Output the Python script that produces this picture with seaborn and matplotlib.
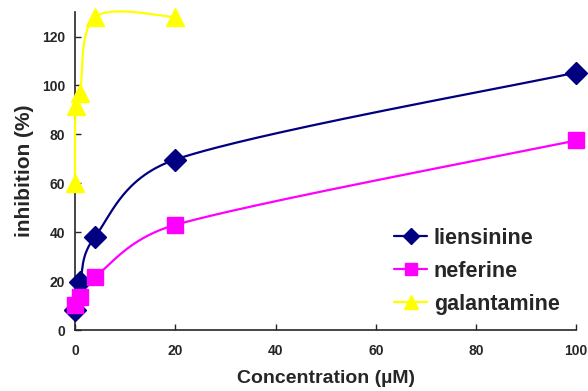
import numpy as np
import pandas as pd
import matplotlib
matplotlib.use("Agg")
import matplotlib.pyplot as plt
from matplotlib.lines import Line2D
import seaborn as sns

# data
lien_x = [0.0, 1, 4, 20, 100]
lien_y = [8.2, 19.7, 38.2, 69.7, 105.3]
nef_x = [0.0, 1, 4, 20, 100]
nef_y = [10.2, 13.5, 21.7, 43.0, 77.5]
gal_x = [0.0, 0.1, 1, 4, 20]
gal_y = [60.0, 91.5, 97.0, 128.0, 128.0]
names = ["liensinine", "neferine", "galantamine"]
colors = ["#000080", "#FF00FF", "#FFFF00"]
markers = ["D", "s", "^"]
msizes = [11, 11, 12.5]
leg_msizes = [8.5, 8.5, 10]
xticks = [0, 20, 40, 60, 80, 100]
yticks = [0, 20, 40, 60, 80, 100, 120]


def smooth_pixels(P, n=60):
    # Excel-like smoothed line: Bezier arms (p[i+1]-p[i-1])/6, limited to half the segment
    P = np.asarray(P, float)
    out = []
    N = len(P)
    for i in range(N - 1):
        p0 = P[i - 1] if i > 0 else P[i]
        p1 = P[i]
        p2 = P[i + 1]
        p3 = P[i + 2] if i + 2 < N else P[i + 1]
        d12 = np.linalg.norm(p2 - p1)
        a1 = (p2 - p0) / 6.0
        a2 = (p3 - p1) / 6.0
        for a in (a1, a2):
            L = np.linalg.norm(a)
            if L > d12 / 2 and L > 0:
                a *= (d12 / 2) / L
        c1 = p1 + a1
        c2 = p2 - a2
        t = np.linspace(0, 1, n)[:, None]
        seg = ((1 - t) ** 3) * p1 + 3 * ((1 - t) ** 2) * t * c1 + 3 * (1 - t) * t ** 2 * c2 + t ** 3 * p2
        out.append(seg if i == 0 else seg[1:])
    return np.vstack(out)


sns.set_style("ticks")
plt.rcParams["font.family"] = ["Liberation Sans", "DejaVu Sans"]
plt.rcParams["font.weight"] = "bold"

fig = plt.figure(figsize=(5.88, 3.91), dpi=100)
ax = fig.add_axes([0.1276, 0.156, 0.8524, 0.813])
ax.set_xlim(0, 100)
ax.set_ylim(0, 130)

series = [(lien_x, lien_y), (nef_x, nef_y), (gal_x, gal_y)]
handles = []
for (xs, ys), name, c, m, ms, lms in zip(series, names, colors, markers, msizes, leg_msizes):
    pix = ax.transData.transform(np.column_stack([xs, ys]))
    curve = ax.transData.inverted().transform(smooth_pixels(pix))
    sns.lineplot(x=curve[:, 0], y=curve[:, 1], sort=False, color=c, lw=1.6, ax=ax,
                 clip_on=False, zorder=4)
    ax.plot(xs, ys, linestyle="none", marker=m, markersize=ms, color=c,
            markeredgecolor=c, clip_on=False, zorder=5)
    handles.append(Line2D([0], [0], color=c, lw=1.6, marker=m, markersize=lms,
                          markeredgecolor=c))

ax.set_xlim(0, 100)
ax.set_ylim(0, 130)
ax.set_xticks(xticks)
ax.set_yticks(yticks)
ax.tick_params(axis="x", direction="in", length=4, width=1, labelsize=10, pad=10)
ax.tick_params(axis="y", direction="in", length=4, width=1, labelsize=10, pad=7)
for lab in ax.get_xticklabels() + ax.get_yticklabels():
    lab.set_fontweight("bold")
for s in ["top", "right"]:
    ax.spines[s].set_visible(False)
for s in ["left", "bottom"]:
    ax.spines[s].set_linewidth(1.2)

ax.set_xlabel("Concentration (\u00b5M)", fontsize=14, fontweight="bold", labelpad=9)
ax.set_ylabel("inhibition (%)", fontsize=15, fontweight="bold", labelpad=6)

leg = fig.legend(handles, names, loc="upper left", bbox_to_anchor=(394 / 588, 1 - 228 / 391),
                 frameon=False, handlelength=1.55, handletextpad=0.3,
                 labelspacing=0.55, borderpad=0, borderaxespad=0,
                 prop={"weight": "bold", "size": 15.5})

fig.savefig("out.png", dpi=100)
